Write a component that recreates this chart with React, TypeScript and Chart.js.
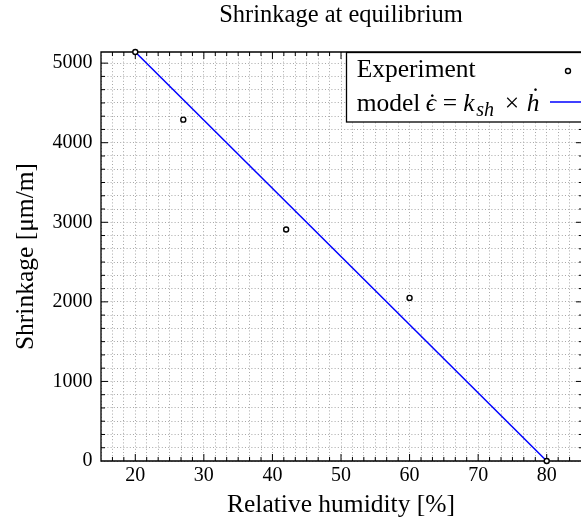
import React, { useEffect, useRef } from 'react';
import { Chart, registerables } from 'chart.js';

Chart.register(...registerables);

const FONT = "'Liberation Serif', 'Times New Roman', serif";

// ---- data ----
const expHumidity = [20, 27, 42, 60, 80];
const expShrinkage = [5140, 4290, 2910, 2050, 0];
const modelHumidity = [20, 80];
const modelShrinkage = [5140, 0];

// ---- axes ----
const xRange = [15, 85];
const yRange = [0, 5140];
const xMajorTicks = [20, 30, 40, 50, 60, 70, 80];
const yMajorTicks = [0, 1000, 2000, 3000, 4000, 5000];
const minorPerMajor = 6;

// ---- text ----
const chartTitle = 'Shrinkage at equilibrium';
const xTitle = 'Relative humidity [%]';
const yTitle = 'Shrinkage [μm/m]';
const seriesLabels = ['Experiment', 'model'];

function isMajor(v: number, majors: number[]) {
  return majors.some((m) => Math.abs(m - v) < 1e-6);
}

function gridValues(majors: number[], range: number[]) {
  const step = (majors[1] - majors[0]) / minorPerMajor;
  const m0 = majors[0];
  const kStart = Math.ceil((range[0] - m0) / step - 1e-9);
  const kEnd = Math.floor((range[1] - m0) / step + 1e-9);
  const out: number[] = [];
  for (let k = kStart; k <= kEnd; k++) out.push(m0 + k * step);
  return out;
}

const axisPlugin = {
  id: 'axisFrame',
  beforeDatasetsDraw(chart: any) {
    const { ctx, chartArea: a, scales } = chart;
    const xs = scales.x;
    const ys = scales.y;
    ctx.save();
    ctx.strokeStyle = '#000';
    ctx.lineWidth = 1;
    ctx.beginPath();
    for (const t of xs.ticks) {
      if (t.value <= xs.min + 1e-6 || t.value >= xs.max - 1e-6) continue;
      const p = xs.getPixelForValue(t.value);
      const len = isMajor(t.value, xMajorTicks) ? 7 : 4;
      ctx.moveTo(p, a.bottom);
      ctx.lineTo(p, a.bottom - len);
      ctx.moveTo(p, a.top);
      ctx.lineTo(p, a.top + len);
    }
    for (const t of ys.ticks) {
      if (t.value <= ys.min + 1e-6 || t.value >= ys.max - 1e-6) continue;
      const p = ys.getPixelForValue(t.value);
      const len = isMajor(t.value, yMajorTicks) ? 7 : 4;
      ctx.moveTo(a.left, p);
      ctx.lineTo(a.left + len, p);
      ctx.moveTo(a.right + 2, p);
      ctx.lineTo(a.right + 2 - len, p);
    }
    ctx.stroke();
    ctx.lineWidth = 1.3;
    ctx.beginPath();
    ctx.moveTo(a.right + 10, a.top);
    ctx.lineTo(a.left, a.top);
    ctx.lineTo(a.left, a.bottom);
    ctx.lineTo(a.right + 10, a.bottom);
    ctx.stroke();
    ctx.restore();
  },
  afterDraw(chart: any) {
    const { ctx, chartArea: a } = chart;
    ctx.save();
    // title
    ctx.fillStyle = '#000';
    ctx.font = `24.5px ${FONT}`;
    ctx.textAlign = 'center';
    ctx.textBaseline = 'middle';
    ctx.fillText(chartTitle, (a.left + a.right) / 2, 16);

    // legend box
    const lx = a.right - 234.5;
    const ly = a.top + 0.5;
    const lb = a.top + 70;
    ctx.fillStyle = '#fff';
    ctx.fillRect(lx, ly, chart.width - lx + 10, lb - ly);
    ctx.strokeStyle = '#000';
    ctx.lineWidth = 1.3;
    ctx.strokeRect(lx, ly, chart.width - lx + 10, lb - ly);

    ctx.fillStyle = '#000';
    ctx.textAlign = 'left';
    ctx.textBaseline = 'alphabetic';
    const tx = lx + 10.2;
    // row 1
    ctx.font = `25.5px ${FONT}`;
    ctx.fillText(seriesLabels[0], tx, a.top + 25);
    ctx.beginPath();
    ctx.arc(a.right - 13, a.top + 19, 2.5, 0, Math.PI * 2);
    ctx.fillStyle = '#fff';
    ctx.fill();
    ctx.lineWidth = 1.4;
    ctx.strokeStyle = '#000';
    ctx.stroke();

    // row 2
    const base = a.top + 59;
    const up = `25.5px ${FONT}`;
    const it = `italic 25.5px ${FONT}`;
    const sub = `italic 20px ${FONT}`;
    ctx.fillStyle = '#000';
    const put = (s: string, font: string, x: number, dy = 0) => {
      ctx.font = font;
      ctx.fillText(s, x, base + dy);
      return ctx.measureText(s).width;
    };
    put(seriesLabels[1], up, tx);
    const we = put('ϵ', it, tx + 69);
    ctx.font = up;
    ctx.textAlign = 'center';
    ctx.fillText('˙', tx + 69 + we / 2 + 1.5, base);
    ctx.textAlign = 'left';
    put('=', up, tx + 86);
    put('k', it, tx + 106.5);
    put('sh', sub, tx + 119.5, 5);
    put('×', up, tx + 148);
    const wh = put('h', it, tx + 170);
    ctx.font = up;
    ctx.textAlign = 'center';
    ctx.fillText('˙', tx + 170 + wh / 2 + 2.5, base - 6);
    ctx.textAlign = 'left';

    ctx.beginPath();
    ctx.strokeStyle = '#0000ff';
    ctx.lineWidth = 1.5;
    ctx.moveTo(a.right - 31, a.top + 50);
    ctx.lineTo(chart.width, a.top + 50);
    ctx.stroke();
    ctx.restore();
  },
};

export default function App() {
  const ref = useRef<HTMLCanvasElement | null>(null);

  useEffect(() => {
    const canvas = ref.current;
    if (!canvas) return;
    const xGrid = gridValues(xMajorTicks, xRange);
    const yGrid = gridValues(yMajorTicks, yRange);
    const chart = new Chart(canvas, {
      type: 'scatter',
      data: {
        datasets: [
          {
            label: seriesLabels[0],
            data: expHumidity.map((h, i) => ({ x: h, y: expShrinkage[i] })),
            showLine: false,
            pointStyle: 'circle',
            pointRadius: 2.5,
            pointBorderWidth: 1.4,
            pointBorderColor: '#000',
            pointBackgroundColor: '#fff',
            clip: false,
            order: 0,
          },
          {
            label: seriesLabels[1],
            data: modelHumidity.map((h, i) => ({ x: h, y: modelShrinkage[i] })),
            showLine: true,
            borderColor: '#0000ff',
            borderWidth: 1.5,
            pointRadius: 0,
            clip: false,
            order: 1,
          },
        ],
      } as any,
      options: {
        responsive: false,
        animation: false,
        devicePixelRatio: 1,
        events: [],
        layout: { padding: { top: 52, left: 0, right: 39, bottom: 0 } },
        plugins: {
          legend: { display: false },
          title: { display: false },
          tooltip: { enabled: false },
        },
        scales: {
          x: {
            type: 'linear',
            min: xRange[0],
            max: xRange[1],
            afterBuildTicks: (s: any) => {
              s.ticks = xGrid.map((v) => ({ value: v }));
            },
            afterFit: (s: any) => {
              s.height = 61;
            },
            ticks: {
              autoSkip: false,
              maxRotation: 0,
              padding: 3,
              color: '#000',
              font: { family: FONT, size: 20 },
              callback: (v: any) => (isMajor(Number(v), xMajorTicks) ? String(Math.round(Number(v))) : ''),
            },
            grid: { color: '#a8a8a8', lineWidth: 1, drawTicks: false },
            border: { display: false, dash: [1, 2.2] },
            title: {
              display: true,
              text: xTitle,
              color: '#000',
              font: { family: FONT, size: 25.5 },
              padding: { top: 0, bottom: 1 },
            },
          },
          y: {
            type: 'linear',
            min: yRange[0],
            max: yRange[1],
            afterBuildTicks: (s: any) => {
              s.ticks = yGrid.map((v) => ({ value: v }));
            },
            afterFit: (s: any) => {
              s.width = 101;
            },
            ticks: {
              autoSkip: false,
              padding: 8.5,
              color: '#000',
              font: { family: FONT, size: 20 },
              callback: (v: any) => (isMajor(Number(v), yMajorTicks) ? String(Math.round(Number(v))) : ''),
            },
            grid: { color: '#a8a8a8', lineWidth: 1, drawTicks: false },
            border: { display: false, dash: [1, 2.2] },
            title: {
              display: true,
              text: yTitle,
              color: '#000',
              font: { family: FONT, size: 25.5 },
              padding: { top: 11, bottom: 0 },
            },
          },
        },
      } as any,
      plugins: [axisPlugin],
    });
    return () => chart.destroy();
  }, []);

  return (
    <div
      style={{
        position: 'fixed',
        left: 0,
        top: 0,
        width: 581,
        height: 522,
        overflow: 'hidden',
        background: '#fff',
      }}
    >
      <canvas ref={ref} width={620} height={522} style={{ display: 'block' }} />
    </div>
  );
}
